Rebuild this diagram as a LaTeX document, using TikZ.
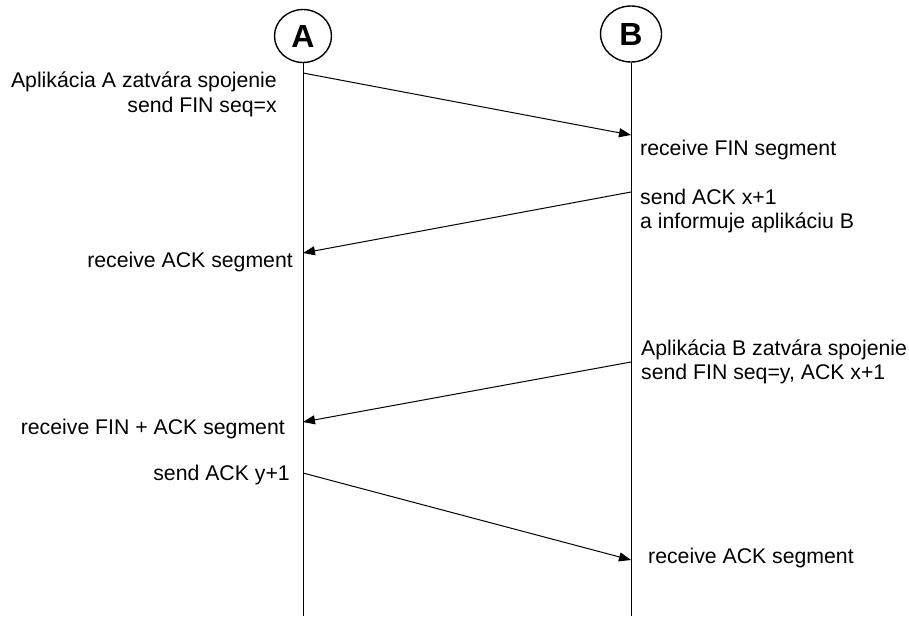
\documentclass[tikz,border=0pt]{standalone}
\usepackage{fontspec}
\setmainfont{Liberation Sans}
\usetikzlibrary{arrows.meta,shapes.geometric}
\begin{document}
\begin{tikzpicture}[x=1pt,y=-1pt,
  lbl/.style={font=\fontsize{21.25}{24.5}\selectfont, inner sep=0pt},
  head/.style={draw, ellipse, line width=1.4pt, inner sep=0pt, font=\fontsize{32}{32}\selectfont\bfseries},
  life/.style={line width=1pt},
  msg/.style={line width=1pt, -{Triangle[length=12pt,width=9pt]}}]
\useasboundingbox (0,0) rectangle (909,618);
% participants
\node[head, minimum width=57pt, minimum height=53pt] (A) at (303,36) {A};
\node[head, minimum width=61pt, minimum height=56pt] (B) at (631,34) {B};
\coordinate (Aend) at (303,616);
\coordinate (Bend) at (631,616);
\draw[life] (A.south) -- (Aend);
\draw[life] (B.south) -- (Bend);
% message end points
\coordinate (a1) at (303,73);  \coordinate (b1) at (631,135);
\coordinate (b2) at (631,192); \coordinate (a2) at (303,253);
\coordinate (b3) at (631,362); \coordinate (a3) at (303,422);
\coordinate (a4) at (303,473); \coordinate (b4) at (631,560);
\draw[msg] (a1) -- (b1);
\draw[msg] (b2) -- (a2);
\draw[msg] (b3) -- (a3);
\draw[msg] (a4) -- (b4);
% labels
\node[lbl, anchor=base east] (t1a) at (277,87) {Aplikácia A zatvára spojenie};
\node[lbl, anchor=base east] (t1b) at (277,112) {send FIN seq=x};
\node[lbl, anchor=base west] (t2) at (640,155) {receive FIN segment};
\node[lbl, anchor=base west] (t3a) at (640,204) {send ACK x+1};
\node[lbl, anchor=base west] (t3b) at (640,228) {a informuje aplikáciu B};
\node[lbl, anchor=base east] (t4) at (293,267) {receive ACK segment};
\node[lbl, anchor=base west] (t5a) at (641,355) {Aplikácia B zatvára spojenie};
\node[lbl, anchor=base west] (t5b) at (641,379) {send FIN seq=y, ACK x+1};
\node[lbl, anchor=base east] (t6) at (285,434) {receive FIN + ACK segment};
\node[lbl, anchor=base east] (t7) at (290,480) {send ACK y+1};
\node[lbl, anchor=base west] (t8) at (648,563) {receive ACK segment};
\end{tikzpicture}
\end{document}
